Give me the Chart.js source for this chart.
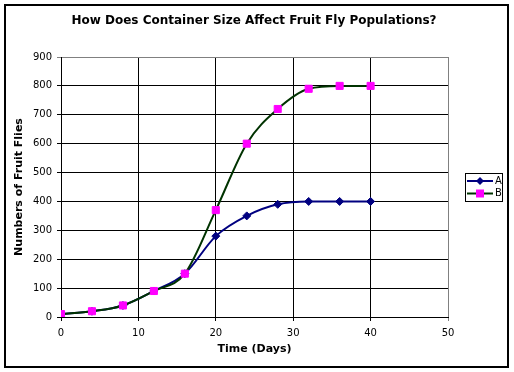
<!DOCTYPE html>
<html lang="en">
<head>
    <meta charset="UTF-8">
    <title>Fruit Fly Populations</title>
    <script src="https://cdn.jsdelivr.net/npm/chart.js"></script>
    <style>
        html, body {
            margin: 0;
            padding: 0;
            background: #ffffff;
        }
        #chart {
            display: block;
        }
    </style>
</head>
<body>
    <canvas id="chart" width="514" height="372"></canvas>

    <script>
        // Data
        const days = [0, 4, 8, 12, 16, 20, 24, 28, 32, 36, 40];
        const seriesA = [10, 20, 40, 90, 150, 280, 350, 390, 400, 400, 400];
        const seriesB = [10, 20, 40, 90, 150, 370, 600, 720, 790, 800, 800];
        const xTicks = [0, 10, 20, 30, 40, 50];
        const yTicks = [0, 100, 200, 300, 400, 500, 600, 700, 800, 900];

        const toPoints = values => days.map((d, i) => ({ x: d, y: values[i] }));

        const tickFont = { family: 'DejaVu Sans', size: 10 };
        const boldFont = { family: 'DejaVu Sans', size: 11, weight: 'bold' };

        // Outer frame and the boxed legend on the right
        const framePlugin = {
            id: 'frame',
            afterDraw(chart) {
                const ctx = chart.ctx;
                ctx.save();
                ctx.strokeStyle = '#000000';
                ctx.lineWidth = 2;
                ctx.strokeRect(5, 5, 503, 362);

                // legend box
                ctx.lineWidth = 1;
                ctx.strokeRect(465.5, 173.5, 37, 28);

                const rows = [chart.data.datasets[0], chart.data.datasets[1]];
                rows.forEach((ds, i) => {
                    const y = 181 + i * 12.5;
                    ctx.strokeStyle = ds.borderColor;
                    ctx.lineWidth = 2;
                    ctx.beginPath();
                    ctx.moveTo(467, y);
                    ctx.lineTo(493, y);
                    ctx.stroke();

                    ctx.fillStyle = ds.pointBackgroundColor;
                    ctx.beginPath();
                    if (ds.pointStyle === 'rectRot') {
                        ctx.moveTo(480, y - 4);
                        ctx.lineTo(484, y);
                        ctx.lineTo(480, y + 4);
                        ctx.lineTo(476, y);
                        ctx.closePath();
                        ctx.fill();
                    } else {
                        ctx.fillRect(476, y - 4, 8, 8);
                    }

                    ctx.fillStyle = '#000000';
                    ctx.font = '10px "DejaVu Sans"';
                    ctx.textBaseline = 'middle';
                    ctx.textAlign = 'left';
                    ctx.fillText(ds.label, 495, y);
                });
                ctx.restore();
            }
        };

        const lastGray = (ctx, last) => ctx.tick && ctx.tick.value === last ? '#808080' : '#000000';

        new Chart(document.getElementById('chart'), {
            type: 'line',
            data: {
                datasets: [
                    {
                        label: 'A',
                        data: toPoints(seriesA),
                        borderColor: '#000080',
                        backgroundColor: '#000080',
                        borderWidth: 2,
                        pointStyle: 'rectRot',
                        pointRadius: 4,
                        pointBorderWidth: 1,
                        pointBackgroundColor: '#000080',
                        pointBorderColor: '#000080',
                        cubicInterpolationMode: 'monotone',
                        order: 1
                    },
                    {
                        label: 'B',
                        data: toPoints(seriesB),
                        borderColor: '#003300',
                        backgroundColor: '#ff00ff',
                        borderWidth: 2,
                        pointStyle: 'rect',
                        pointRadius: 5,
                        pointBorderWidth: 1,
                        pointBackgroundColor: '#ff00ff',
                        pointBorderColor: '#ff00ff',
                        cubicInterpolationMode: 'monotone',
                        order: 0
                    }
                ]
            },
            options: {
                responsive: false,
                animation: false,
                events: [],
                layout: {
                    padding: { left: 4, right: 10, top: 0, bottom: 6 }
                },
                plugins: {
                    legend: { display: false },
                    tooltip: { enabled: false },
                    title: {
                        display: true,
                        text: 'How Does Container Size Affect Fruit Fly Populations?',
                        color: '#000000',
                        font: { family: 'DejaVu Sans', size: 12, weight: 'bold' },
                        padding: { top: 14, bottom: 28.6 }
                    }
                },
                scales: {
                    x: {
                        type: 'linear',
                        min: 0,
                        max: 50,
                        afterBuildTicks: s => { s.ticks = xTicks.map(v => ({ value: v })); },
                        afterFit: s => { s.height = 49; },
                        ticks: {
                            color: '#000000',
                            font: tickFont,
                            padding: 6,
                            maxRotation: 0
                        },
                        grid: {
                            color: ctx => lastGray(ctx, 50),
                            tickLength: 4,
                            lineWidth: 1
                        },
                        border: { color: '#000000', width: 1 },
                        title: {
                            display: true,
                            text: 'Time (Days)',
                            color: '#000000',
                            font: boldFont,
                            padding: { top: 0, bottom: 10 }
                        }
                    },
                    y: {
                        type: 'linear',
                        min: 0,
                        max: 900,
                        afterBuildTicks: s => { s.ticks = yTicks.map(v => ({ value: v })); },
                        afterFit: s => { s.width = 57; },
                        ticks: {
                            color: '#000000',
                            font: tickFont,
                            padding: 5
                        },
                        grid: {
                            color: ctx => lastGray(ctx, 900),
                            tickLength: 4,
                            lineWidth: 1
                        },
                        border: { color: '#000000', width: 1 },
                        title: {
                            display: true,
                            text: 'Numbers of Fruit Flies',
                            color: '#000000',
                            font: boldFont,
                            padding: { top: 9, bottom: 0 }
                        }
                    },
                    // empty strip on the right that holds the legend box
                    legendSpace: {
                        type: 'linear',
                        position: 'right',
                        afterFit: s => { s.width = 56; },
                        ticks: { display: false },
                        grid: { display: false },
                        border: { display: false }
                    }
                }
            },
            plugins: [framePlugin]
        });
    </script>
</body>
</html>
